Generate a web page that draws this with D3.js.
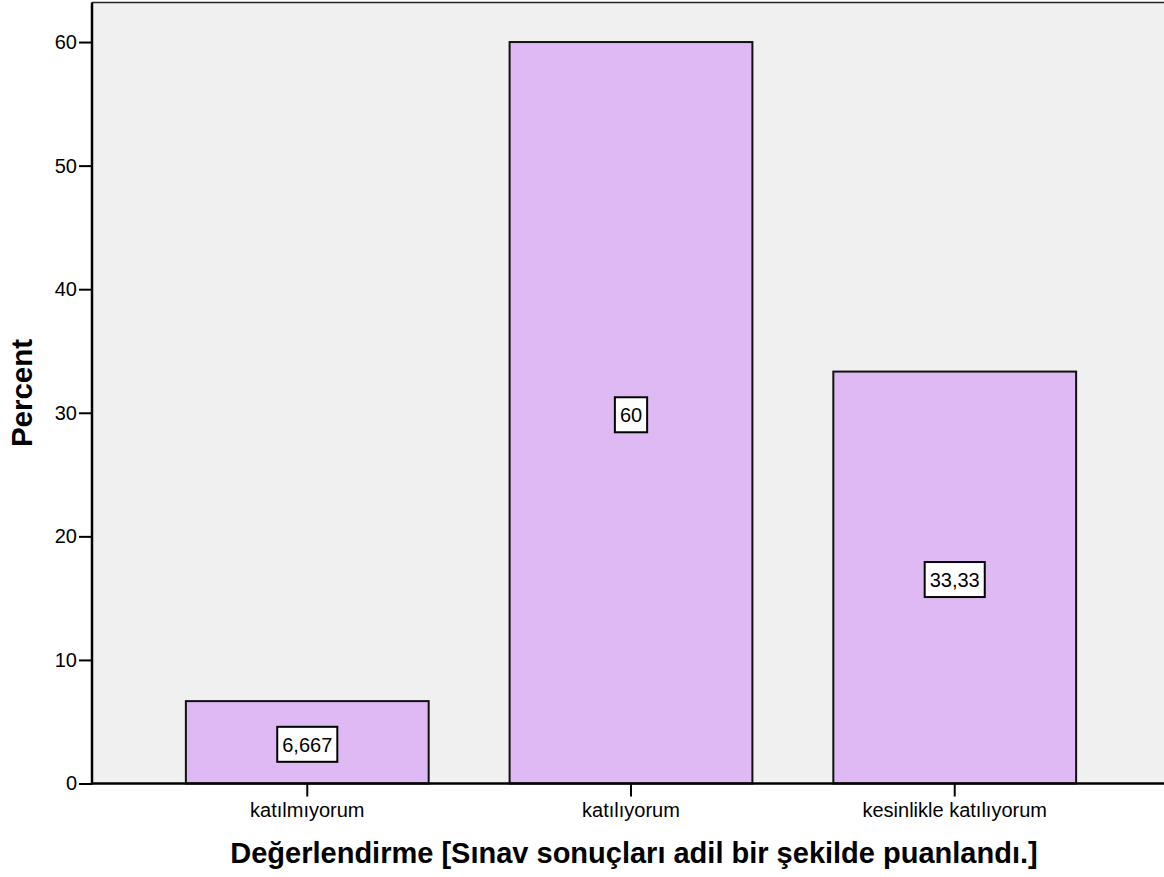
<!DOCTYPE html>
<html>
<head>
<meta charset="utf-8">
<script src="https://cdn.jsdelivr.net/npm/d3@7"></script>
<style>
  body { margin: 0; background: #fff; }
  svg { display: block; font-family: Arial, "Liberation Sans", sans-serif; }
</style>
</head>
<body>
<div id="chart"></div>
<script>
const categories = ["katılmıyorum", "katılıyorum", "kesinlikle katılıyorum"];
const percents = [6.667, 60, 33.333];
const yTicks = [0, 10, 20, 30, 40, 50, 60];
const xTitle = "Değerlendirme [Sınav sonuçları adil bir şekilde puanlandı.]";
const yTitle = "Percent";

const W = 1164, H = 877;
const plot = { left: 92, right: 1170, top: 2.5, bottom: 783.5 };

const trLocale = d3.formatLocale({ decimal: ",", thousands: ".", grouping: [3], currency: ["", ""] });
const fmt = trLocale.format(".4~g");

const svg = d3.select("#chart").append("svg")
    .attr("width", W)
    .attr("height", H);

const x = d3.scaleBand().domain(categories)
    .range([plot.left, plot.right])
    .paddingInner(0.25)
    .paddingOuter(0.29);
const y = d3.scaleLinear().domain([0, 63.2]).range([plot.bottom, plot.top]);

// plot background
svg.append("rect")
    .attr("x", plot.left).attr("y", plot.top)
    .attr("width", W - plot.left).attr("height", plot.bottom - plot.top)
    .attr("fill", "#f0f0f0");

// top frame line
svg.append("line")
    .attr("x1", plot.left).attr("x2", W)
    .attr("y1", plot.top).attr("y2", plot.top)
    .attr("stroke", "#222").attr("stroke-width", 1.5);

// bars
svg.selectAll(".bar")
    .data(categories)
    .enter().append("rect")
    .attr("class", "bar")
    .attr("x", d => x(d))
    .attr("y", (d, i) => y(percents[i]))
    .attr("width", x.bandwidth())
    .attr("height", (d, i) => y(0) - y(percents[i]))
    .attr("fill", "#dfb9f3")
    .attr("stroke", "#111")
    .attr("stroke-width", 2);

// axes
const yAxis = svg.append("g")
    .attr("transform", `translate(${plot.left},0)`)
    .call(d3.axisLeft(y).tickValues(yTicks).tickSize(13).tickPadding(2).tickFormat(d3.format("d")));
yAxis.select(".domain").remove();
yAxis.selectAll(".tick line").attr("stroke", "#000").attr("stroke-width", 2);
yAxis.selectAll(".tick text").attr("fill", "#000").style("font-size", "20px")
    .style("font-family", "Arial, 'Liberation Sans', sans-serif");

const xAxis = svg.append("g")
    .attr("transform", `translate(0,${plot.bottom})`)
    .call(d3.axisBottom(x).tickSize(13).tickPadding(6));
xAxis.select(".domain").remove();
xAxis.selectAll(".tick line").attr("stroke", "#000").attr("stroke-width", 2);
xAxis.selectAll(".tick text").attr("fill", "#000").style("font-size", "20px")
    .style("font-family", "Arial, 'Liberation Sans', sans-serif");

// axis lines
svg.append("line")
    .attr("x1", plot.left).attr("x2", plot.left)
    .attr("y1", plot.top).attr("y2", plot.bottom + 1)
    .attr("stroke", "#000").attr("stroke-width", 2.5);
svg.append("line")
    .attr("x1", plot.left).attr("x2", W)
    .attr("y1", plot.bottom).attr("y2", plot.bottom)
    .attr("stroke", "#000").attr("stroke-width", 2.5);

// value labels in boxes
const labels = svg.selectAll(".val")
    .data(categories)
    .enter().append("g")
    .attr("class", "val")
    .attr("transform", (d, i) => `translate(${x(d) + x.bandwidth() / 2},${y(percents[i] / 2) + 2})`);

labels.append("text")
    .attr("text-anchor", "middle")
    .attr("dy", "0.36em")
    .style("font-size", "20px")
    .attr("fill", "#000")
    .text((d, i) => fmt(percents[i]));

labels.each(function () {
    const g = d3.select(this);
    const bb = g.select("text").node().getBBox();
    g.insert("rect", "text")
        .attr("x", bb.x - 5)
        .attr("y", -17.5)
        .attr("width", bb.width + 10)
        .attr("height", 35)
        .attr("fill", "#fff")
        .attr("stroke", "#000")
        .attr("stroke-width", 2);
});

// axis titles
svg.append("text")
    .attr("x", (plot.left + plot.right) / 2 + 3)
    .attr("y", 863)
    .attr("text-anchor", "middle")
    .style("font-size", "29px")
    .style("font-weight", "bold")
    .attr("fill", "#000")
    .text(xTitle);

svg.append("text")
    .attr("transform", `translate(32,${(plot.top + plot.bottom) / 2}) rotate(-90)`)
    .attr("text-anchor", "middle")
    .style("font-size", "29.5px")
    .style("font-weight", "bold")
    .attr("fill", "#000")
    .text(yTitle);
</script>
</body>
</html>
